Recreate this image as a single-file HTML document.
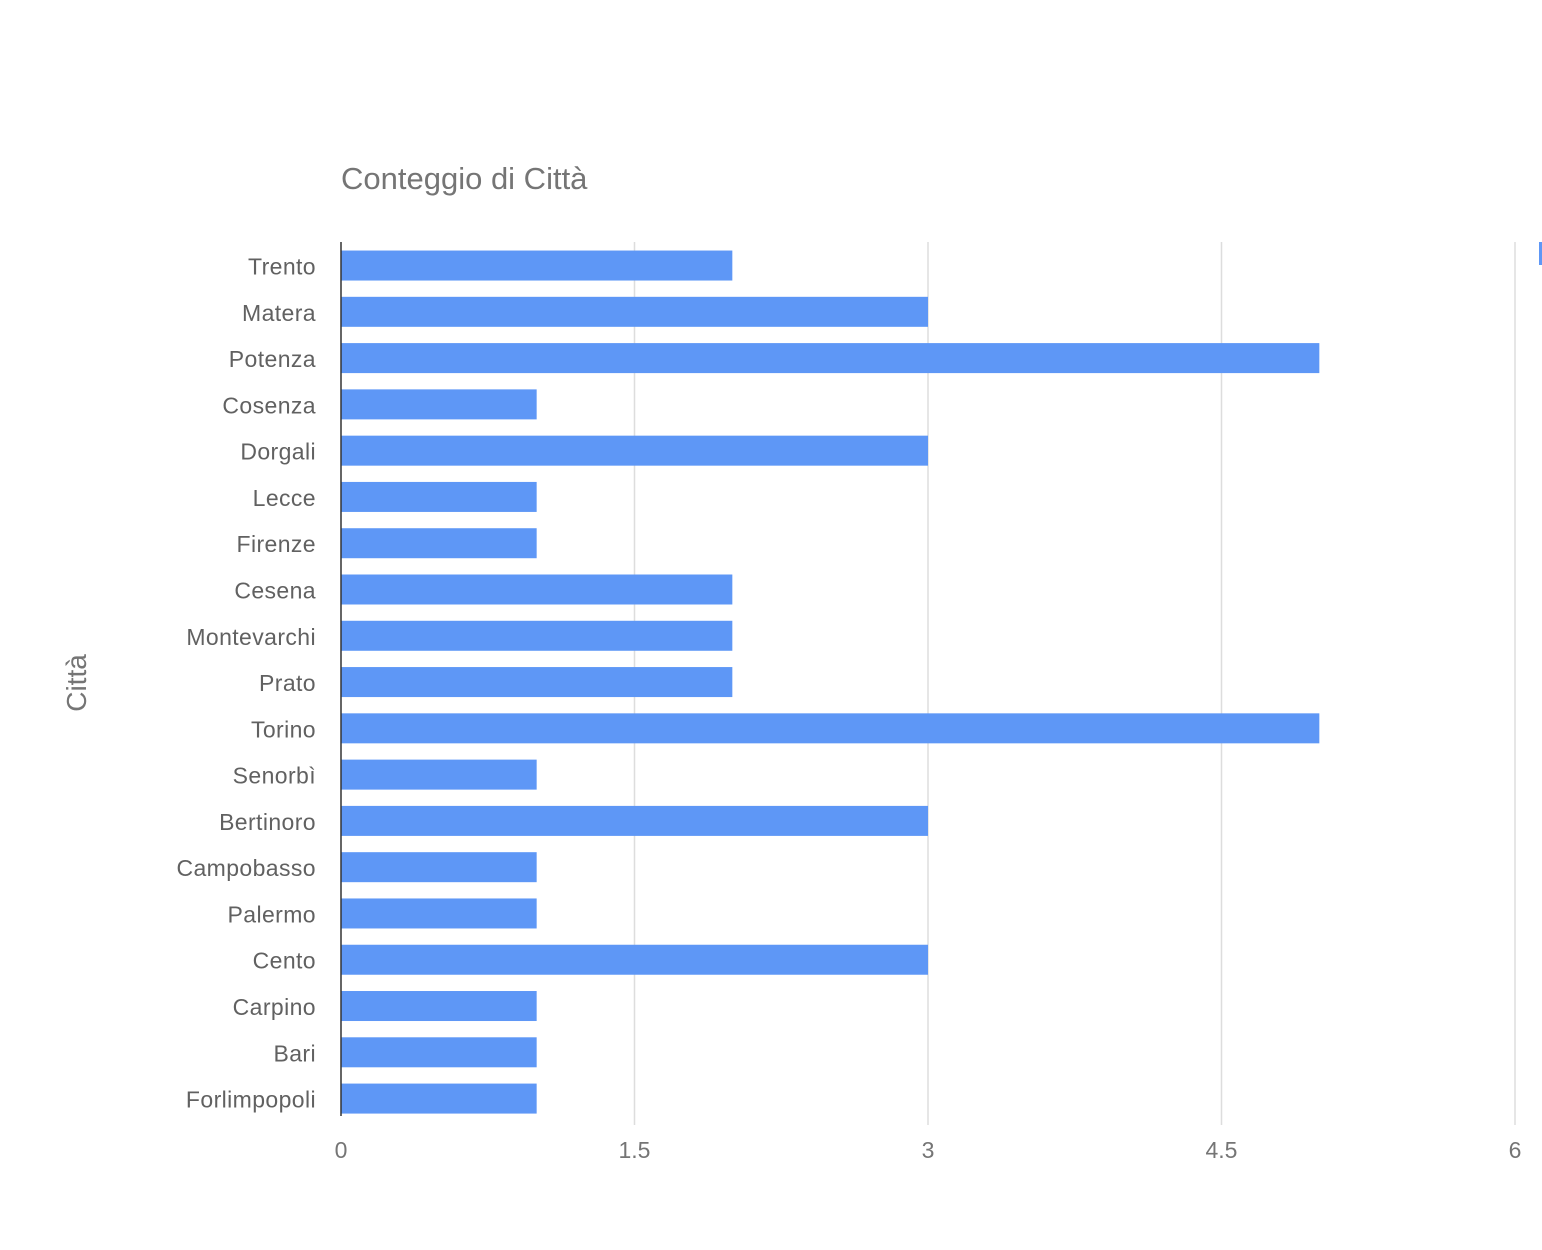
<!DOCTYPE html>
<html><head><meta charset="utf-8"><style>
html,body{margin:0;padding:0;background:#fff;}
svg{display:block;font-family:"Liberation Sans",sans-serif;}
</style></head><body>
<svg id="chart" width="1542" height="1250">
<text x="341" y="189" font-size="31" fill="#757575">Conteggio di Città</text>
<text transform="translate(86,683) rotate(-90)" text-anchor="middle" font-size="28" fill="#757575">Città</text>
<rect x="1539" y="242" width="3" height="23" fill="#5e97f6"/>
<g id="grid"></g><g id="bars"></g><g id="labels"></g><g id="ticks"></g>
<line x1="341" y1="242" x2="341" y2="1116" stroke="#333" stroke-width="1.5"/>
</svg>
<script>
const categories=["Trento","Matera","Potenza","Cosenza","Dorgali","Lecce","Firenze","Cesena","Montevarchi","Prato","Torino","Senorbì","Bertinoro","Campobasso","Palermo","Cento","Carpino","Bari","Forlimpopoli"];
const values=[2,3,5,1,3,1,1,2,2,2,5,1,3,1,1,3,1,1,1];
const tickValues=[0,1.5,3,4.5,6];
const tickLabels=["0","1.5","3","4.5","6"];
const NS="http://www.w3.org/2000/svg";
const x0=341,x1=1515,xMax=6,yTop=242.4,band=46.28,barH=30;
function xs(v){return x0+(x1-x0)*v/xMax;}
function yc(i){return yTop+band*(i+0.5);}
function mk(t,a,p){const e=document.createElementNS(NS,t);for(const k in a)e.setAttribute(k,a[k]);document.getElementById(p).appendChild(e);return e;}
tickValues.forEach((v,i)=>{
 if(v>0){const g=mk("line",{x1:xs(v),x2:xs(v),y1:242,y2:1125,stroke:"#dddddd","stroke-width":1.5},"grid");
 
 }
 const t=mk("text",{x:xs(v),y:1158,"text-anchor":"middle","font-size":23,fill:"#757575"},"ticks");
 t.textContent=tickLabels[i];
 
 
});
categories.forEach((c,i)=>{
 const r=mk("rect",{x:x0,y:yc(i)-barH/2,width:xs(values[i])-x0,height:barH,fill:"#5e97f6"},"bars");
 
 
 const t=mk("text",{x:316,y:yc(i)+9,"text-anchor":"end","font-size":23,"letter-spacing":"0.4",fill:"#616161"},"labels");
 t.textContent=c;
 
 
});
</script>
</body></html>
